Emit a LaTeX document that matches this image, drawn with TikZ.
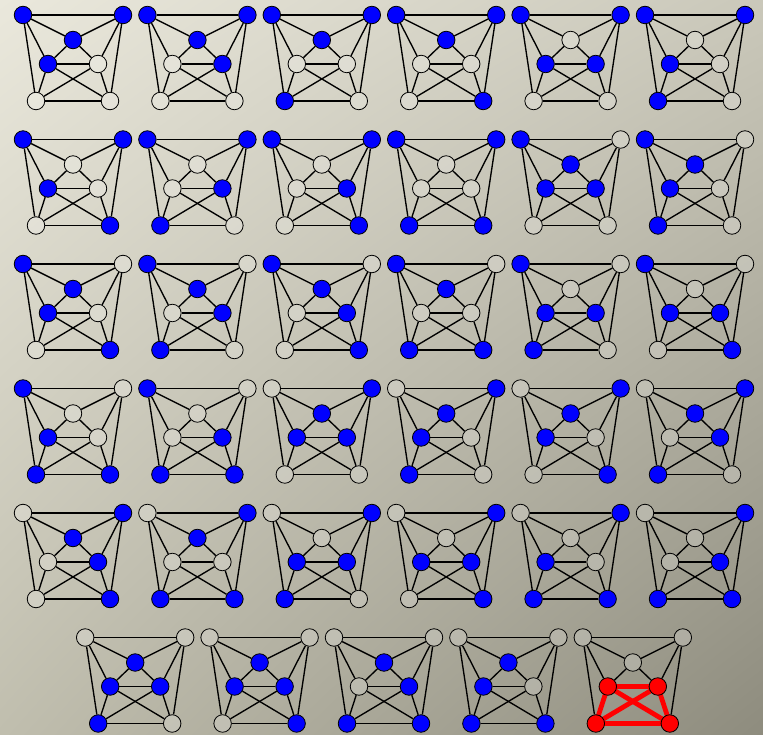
\documentclass[tikz,border=0pt]{standalone}
\usetikzlibrary{shadings}
\definecolor{bgA}{RGB}{234,232,220}
\definecolor{bgB}{RGB}{202,200,186}
\definecolor{bgC}{RGB}{192,190,174}
\definecolor{bgD}{RGB}{142,140,126}
\definecolor{vblue}{RGB}{0,0,255}
\definecolor{vred}{RGB}{255,0,0}
\pgfdeclarelayer{back}
\pgfdeclarelayer{edges}
\pgfsetlayers{back,edges,main}
\begin{document}
\begin{tikzpicture}[x=1pt,y=-1pt,
  vert/.style={circle,draw=black,line width=0.8pt,inner sep=0pt,minimum size=17.5pt,fill=white,fill opacity=0.2,draw opacity=1},
  st/.code={\ifnum#1=1 \pgfkeysalso{fill=vblue,fill opacity=1}\fi},
  edge/.style={line width=1.35pt,black},
  redge/.style={line width=4.8pt,vred,line cap=round}]
\begin{pgfonlayer}{back}
\shade[upper left=bgA, upper right=bgB, lower left=bgC, lower right=bgD] (0,0) rectangle (763,735);
\end{pgfonlayer}
\useasboundingbox (0,0) rectangle (763,735);
\foreach \n/\x/\y/\a/\b/\c/\d/\e/\f/\g in {
  1/23/15/1/1/1/1/0/0/0, 2/147.4/15/1/1/1/0/1/0/0, 3/271.8/15/1/1/1/0/0/1/0,
  4/396.2/15/1/1/1/0/0/0/1, 5/520.6/15/1/1/0/1/1/0/0, 6/645/15/1/1/0/1/0/1/0,
  7/23/139.5/1/1/0/1/0/0/1, 8/147.4/139.5/1/1/0/0/1/1/0, 9/271.8/139.5/1/1/0/0/1/0/1,
  10/396.2/139.5/1/1/0/0/0/1/1, 11/520.6/139.5/1/0/1/1/1/0/0, 12/645/139.5/1/0/1/1/0/1/0,
  13/23/264/1/0/1/1/0/0/1, 14/147.4/264/1/0/1/0/1/1/0, 15/271.8/264/1/0/1/0/1/0/1,
  16/396.2/264/1/0/1/0/0/1/1, 17/520.6/264/1/0/0/1/1/1/0, 18/645/264/1/0/0/1/1/0/1,
  19/23/388.5/1/0/0/1/0/1/1, 20/147.4/388.5/1/0/0/0/1/1/1, 21/271.8/388.5/0/1/1/1/1/0/0,
  22/396.2/388.5/0/1/1/1/0/1/0, 23/520.6/388.5/0/1/1/1/0/0/1, 24/645/388.5/0/1/1/0/1/1/0,
  25/23/513/0/1/1/0/1/0/1, 26/147.4/513/0/1/1/0/0/1/1, 27/271.8/513/0/1/0/1/1/1/0,
  28/396.2/513/0/1/0/1/1/0/1, 29/520.6/513/0/1/0/1/0/1/1, 30/645/513/0/1/0/0/1/1/1,
  31/85.2/637.5/0/0/1/1/1/1/0, 32/209.6/637.5/0/0/1/1/1/0/1, 33/334/637.5/0/0/1/0/1/1/1,
  34/458.4/637.5/0/0/1/1/0/1/1}{
  \begin{scope}[shift={(\x,\y)}]
    \node[vert,st=\a] (g\n-TL) at (0,0) {};
    \node[vert,st=\b] (g\n-TR) at (100,0) {};
    \node[vert,st=\c] (g\n-C) at (50,25) {};
    \node[vert,st=\d] (g\n-ML) at (25,49) {};
    \node[vert,st=\e] (g\n-MR) at (75,49) {};
    \node[vert,st=\f] (g\n-BL) at (13,86) {};
    \node[vert,st=\g] (g\n-BR) at (87,86) {};
  \end{scope}
  \begin{pgfonlayer}{edges}
    \draw[edge] (g\n-TL) -- (g\n-TR);
    \draw[edge] (g\n-TL) -- (g\n-C);
    \draw[edge] (g\n-TR) -- (g\n-C);
    \draw[edge] (g\n-TL) -- (g\n-ML);
    \draw[edge] (g\n-TL) -- (g\n-BL);
    \draw[edge] (g\n-TR) -- (g\n-MR);
    \draw[edge] (g\n-TR) -- (g\n-BR);
    \draw[edge] (g\n-C) -- (g\n-ML);
    \draw[edge] (g\n-C) -- (g\n-MR);
    \draw[edge] (g\n-ML) -- (g\n-MR);
    \draw[edge] (g\n-ML) -- (g\n-BL);
    \draw[edge] (g\n-ML) -- (g\n-BR);
    \draw[edge] (g\n-MR) -- (g\n-BL);
    \draw[edge] (g\n-MR) -- (g\n-BR);
    \draw[edge] (g\n-BL) -- (g\n-BR);
  \end{pgfonlayer}
}
% highlighted graph
\begin{scope}[shift={(582.8,637.5)}]
  \node[vert] (r-TL) at (0,0) {};
  \node[vert] (r-TR) at (100,0) {};
  \node[vert] (r-C) at (50,25) {};
  \node[vert,fill=vred,fill opacity=1] (r-ML) at (25,49) {};
  \node[vert,fill=vred,fill opacity=1] (r-MR) at (75,49) {};
  \node[vert,fill=vred,fill opacity=1] (r-BL) at (13,86) {};
  \node[vert,fill=vred,fill opacity=1] (r-BR) at (87,86) {};
\end{scope}
\begin{pgfonlayer}{edges}
  \draw[edge] (r-TL) -- (r-TR);
  \draw[edge] (r-TL) -- (r-C);
  \draw[edge] (r-TR) -- (r-C);
  \draw[edge] (r-TL) -- (r-ML);
  \draw[edge] (r-TL) -- (r-BL);
  \draw[edge] (r-TR) -- (r-MR);
  \draw[edge] (r-TR) -- (r-BR);
  \draw[edge] (r-C) -- (r-ML);
  \draw[edge] (r-C) -- (r-MR);
  \draw[redge] (r-ML.center) -- (r-MR.center);
  \draw[redge] (r-ML.center) -- (r-BL.center);
  \draw[redge] (r-ML.center) -- (r-BR.center);
  \draw[redge] (r-MR.center) -- (r-BL.center);
  \draw[redge] (r-MR.center) -- (r-BR.center);
  \draw[redge] (r-BL.center) -- (r-BR.center);
\end{pgfonlayer}
\end{tikzpicture}
\end{document}
